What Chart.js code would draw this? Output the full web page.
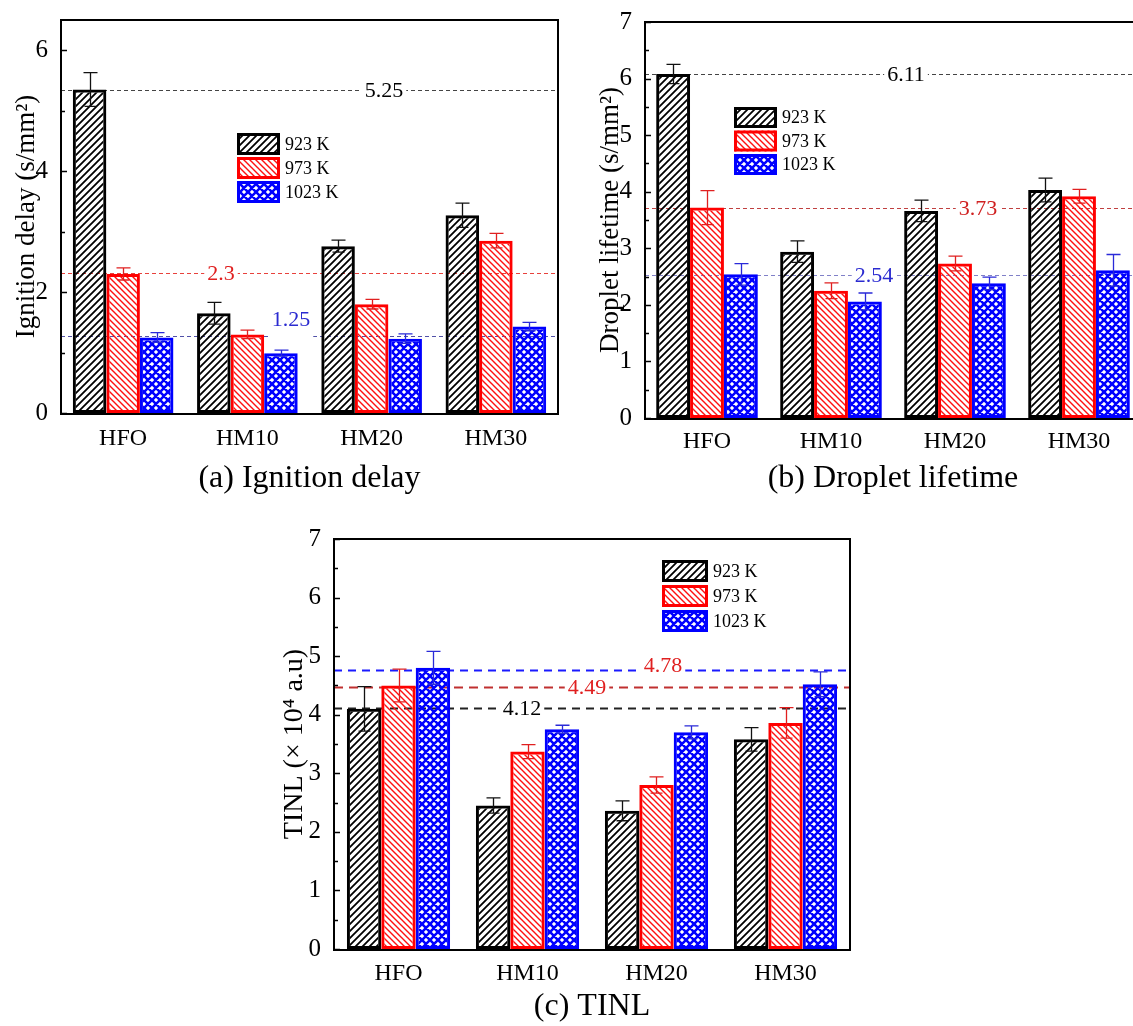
<!DOCTYPE html>
<html><head><meta charset="utf-8">
<script src="https://cdn.jsdelivr.net/npm/chart.js@4.4.0/dist/chart.umd.min.js"></script>
<style>
html,body{margin:0;padding:0;background:#fff;overflow:hidden;width:1133px;height:1026px;position:relative;}
canvas{position:absolute;}
</style></head><body>
<canvas id="ca" width="560" height="500" style="left:0px;top:0px;width:560px;height:500px"></canvas>
<canvas id="cb" width="560" height="500" style="left:584px;top:0px;width:560px;height:500px"></canvas>
<canvas id="cc" width="600" height="526" style="left:270px;top:500px;width:600px;height:526px"></canvas>
<script>
// ---------- data ----------
const categories = ['HFO', 'HM10', 'HM20', 'HM30'];
const seriesNames = ['923 K', '973 K', '1023 K'];

// (a) Ignition delay
const delay923  = [5.35, 1.65, 2.76, 3.27];
const delay973  = [2.30, 1.30, 1.80, 2.85];
const delay1023 = [1.25, 0.99, 1.23, 1.43];
const delayErr923  = [0.28, 0.18, 0.10, 0.20];
const delayErr973  = [0.10, 0.07, 0.08, 0.12];
const delayErr1023 = [0.08, 0.05, 0.08, 0.07];
const delayRefValues = [5.35, 2.31, 1.28];
const delayRefLabels = ['5.25', '2.3', '1.25'];
const delayTicks = [0, 2, 4, 6];

// (b) Droplet lifetime
const life923  = [6.08, 2.94, 3.66, 4.03];
const life973  = [3.72, 2.25, 2.73, 3.92];
const life1023 = [2.54, 2.06, 2.38, 2.61];
const lifeErr923  = [0.17, 0.19, 0.19, 0.21];
const lifeErr973  = [0.30, 0.14, 0.13, 0.12];
const lifeErr1023 = [0.19, 0.15, 0.11, 0.28];
const lifeRefValues = [6.08, 3.72, 2.53];
const lifeRefLabels = ['6.11', '3.73', '2.54'];
const lifeTicks = [0, 1, 2, 3, 4, 5, 6, 7];

// (c) TINL
const tinl923  = [4.10, 2.45, 2.36, 3.58];
const tinl973  = [4.50, 3.37, 2.80, 3.86];
const tinl1023 = [4.80, 3.75, 3.70, 4.52];
const tinlErr923  = [0.38, 0.13, 0.17, 0.20];
const tinlErr973  = [0.28, 0.12, 0.14, 0.26];
const tinlErr1023 = [0.28, 0.07, 0.11, 0.21];
const tinlRefValues = [4.76, 4.48, 4.12];
const tinlRefLabels = ['4.78', '4.49', '4.12'];
const tinlTicks = [0, 1, 2, 3, 4, 5, 6, 7];

// ---------- styles ----------
const FONT = "'Liberation Serif','Times New Roman','DejaVu Serif',serif";
Chart.defaults.font.family = FONT;
Chart.defaults.color = '#000';

function makePattern(kind) {
  const c = document.createElement('canvas');
  const s = kind === 'cross' ? 8 : (kind === 'fwd' ? 7 : 6);
  c.width = s; c.height = s;
  const x = c.getContext('2d');
  x.lineCap = 'square';
  x.beginPath();
  if (kind === 'fwd' || kind === 'cross') {
    for (const o of [-s, 0, s]) { x.moveTo(o - 1, s + 1); x.lineTo(o + s + 1, -1); }
  }
  if (kind === 'bwd' || kind === 'cross') {
    for (const o of [-s, 0, s]) { x.moveTo(o - 1, -1); x.lineTo(o + s + 1, s + 1); }
  }
  if (kind === 'fwd') { x.strokeStyle = '#000'; x.lineWidth = 1.8; }
  if (kind === 'bwd') { x.strokeStyle = '#ff1010'; x.lineWidth = 1.4; }
  if (kind === 'cross') { x.strokeStyle = '#0000ff'; x.lineWidth = 2.6; }
  x.stroke();
  return x.createPattern(c, 'repeat');
}
const fills = [makePattern('fwd'), makePattern('bwd'), makePattern('cross')];
const borderCols = ['#000000', '#ff0000', '#0000ff'];
const errCols = ['#111111', '#e02020', '#2a2ad8'];

function refLinePlugin(values, labels, styles) {
  return {
    id: 'reflines',
    beforeDatasetsDraw(chart) {
      const { ctx, chartArea: a, scales: { y } } = chart;
      values.forEach((v, k) => {
        const st = styles[k];
        const py = Math.round(y.getPixelForValue(v)) + 0.5;
        ctx.save();
        ctx.strokeStyle = st.color; ctx.lineWidth = st.width; ctx.setLineDash(st.dash);
        ctx.beginPath(); ctx.moveTo(a.left, py); ctx.lineTo(a.right, py); ctx.stroke();
        ctx.setLineDash([]);
        ctx.font = '22px ' + FONT;
        const tw = ctx.measureText(labels[k]).width;
        const cx = a.left + st.dx, cy = py + st.dy;
        ctx.fillStyle = '#fff';
        ctx.fillRect(cx - tw / 2 - 3, py - 4, tw + 6, 8);
        ctx.fillStyle = st.text; ctx.textAlign = 'center'; ctx.textBaseline = 'middle';
        ctx.fillText(labels[k], cx, cy + 1);
        ctx.restore();
      });
    }
  };
}

function errorBarPlugin(errs) {
  return {
    id: 'errbars',
    afterDatasetsDraw(chart) {
      const { ctx, scales: { y } } = chart;
      chart.data.datasets.forEach((ds, i) => {
        chart.getDatasetMeta(i).data.forEach((bar, j) => {
          const v = ds.data[j], e = errs[i][j];
          const yt = y.getPixelForValue(v + e), yb = y.getPixelForValue(v - e);
          const x = Math.round(bar.x) + 0.5;
          ctx.save();
          ctx.strokeStyle = errCols[i]; ctx.lineWidth = 1.3;
          ctx.beginPath();
          ctx.moveTo(x, yt); ctx.lineTo(x, yb);
          ctx.moveTo(x - 7, yt); ctx.lineTo(x + 7, yt);
          ctx.moveTo(x - 6, yb); ctx.lineTo(x + 6, yb);
          ctx.stroke();
          ctx.restore();
        });
      });
    }
  };
}

function framePlugin(minorStep) {
  return {
    id: 'frame',
    afterDatasetsDraw(chart) {
      const { ctx, chartArea: a, scales: { y } } = chart;
      ctx.save();
      ctx.strokeStyle = '#000'; ctx.lineWidth = 2;
      ctx.strokeRect(a.left, a.top, a.right - a.left, a.bottom - a.top + 1);
      ctx.lineWidth = 1.5;
      ctx.beginPath();
      for (let v = 0; v <= y.max + 1e-9; v += minorStep) {
        const py = Math.round(y.getPixelForValue(v)) + 0.5;
        const major = y.ticks.some(t => Math.abs(t.value - v) < 1e-9);
        ctx.moveTo(a.left, py); ctx.lineTo(a.left + (major ? 6 : 4), py);
      }
      ctx.stroke();
      ctx.restore();
    }
  };
}

function legendPlugin(pos) {
  return {
    id: 'customLegend',
    afterDraw(chart) {
      const { ctx, chartArea: a } = chart;
      ctx.save();
      seriesNames.forEach((name, i) => {
        const x = a.left + pos.dx, y = a.top + pos.dy + i * pos.step;
        ctx.fillStyle = '#fff'; ctx.fillRect(x, y, pos.w, pos.h);
        ctx.fillStyle = fills[i]; ctx.fillRect(x, y, pos.w, pos.h);
        ctx.strokeStyle = borderCols[i]; ctx.lineWidth = 3;
        ctx.strokeRect(x + 1.5, y + 1.5, pos.w - 3, pos.h - 3);
        ctx.fillStyle = '#000'; ctx.font = '18px ' + FONT;
        ctx.textAlign = 'left'; ctx.textBaseline = 'middle';
        ctx.fillText(name, x + pos.w + 5, y + pos.h / 2 + 1);
      });
      ctx.restore();
    }
  };
}

function panel(id, cfg) {
  new Chart(document.getElementById(id), {
    type: 'bar',
    data: {
      labels: categories,
      datasets: cfg.values.map((vals, i) => ({
        label: seriesNames[i], data: vals,
        backgroundColor: fills[i], borderColor: borderCols[i],
        borderWidth: 3, borderSkipped: false,
        barPercentage: 1, categoryPercentage: cfg.catPct
      }))
    },
    options: {
      responsive: false, animation: false, devicePixelRatio: 1, events: [],
      layout: { padding: cfg.pad },
      plugins: { legend: { display: false }, tooltip: { enabled: false }, title: { display: false } },
      scales: {
        x: {
          grid: { display: false }, border: { display: false },
          ticks: { color: '#000', font: { size: 24, lineHeight: 1 }, padding: cfg.xTickPad, maxRotation: 0, autoSkip: false },
          title: { display: true, text: cfg.caption, color: '#000', font: { size: 32, lineHeight: 1 }, padding: { top: 0, bottom: cfg.capPad } },
          afterFit(s) { s.height = cfg.xH; }
        },
        y: {
          min: 0, max: cfg.ymax,
          grid: { display: false }, border: { display: false },
          afterBuildTicks(s) { s.ticks = cfg.yTicks.map(v => ({ value: v })); },
          ticks: { color: '#000', font: { size: 25 }, padding: 5 },
          title: { display: true, text: cfg.yTitle, color: '#000', font: { size: cfg.yTitleSize, lineHeight: 1 }, padding: { top: cfg.yTitlePad, bottom: 0 } },
          afterFit(s) { s.width = cfg.yW; }
        }
      }
    },
    plugins: [
      refLinePlugin(cfg.refValues, cfg.refLabels, cfg.refStyles),
      errorBarPlugin(cfg.errs),
      framePlugin(cfg.minorStep),
      legendPlugin(cfg.legend)
    ]
  });
}

panel('ca', {
  values: [delay923, delay973, delay1023],
  errs: [delayErr923, delayErr973, delayErr1023],
  refValues: delayRefValues, refLabels: delayRefLabels,
  refStyles: [
    { color: '#444', width: 1, dash: [4, 3], text: '#000', dx: 323, dy: 0 },
    { color: '#e8413c', width: 1, dash: [4, 3], text: '#e02020', dx: 160, dy: 0 },
    { color: '#5050a8', width: 1, dash: [4, 3], text: '#2a2ad0', dx: 230, dy: -17 }
  ],
  yTicks: delayTicks, ymax: 6.5, minorStep: 1,
  catPct: 0.81,
  pad: { left: 0, top: 17, right: 2, bottom: 0 },
  yW: 61, xH: 87, xTickPad: 6, capPad: 5,
  caption: '(a) Ignition delay',
  yTitle: 'Ignition delay (s/mm\u00B2)', yTitleSize: 27, yTitlePad: 13.5,
  legend: { dx: 176, dy: 113, w: 43, h: 22, step: 24 }
});

panel('cb', {
  values: [life923, life973, life1023],
  errs: [lifeErr923, lifeErr973, lifeErr1023],
  refValues: lifeRefValues, refLabels: lifeRefLabels,
  refStyles: [
    { color: '#444', width: 1, dash: [4, 3], text: '#000', dx: 261, dy: 0 },
    { color: '#c04040', width: 1, dash: [4, 3], text: '#d02020', dx: 333, dy: 0 },
    { color: '#8080c8', width: 1, dash: [4, 3], text: '#2a2ad0', dx: 229, dy: 0 }
  ],
  yTicks: lifeTicks, ymax: 7, minorStep: 0.5,
  catPct: 0.82,
  pad: { left: 0, top: 22, right: 3, bottom: 0 },
  yW: 61, xH: 82, xTickPad: 4, capPad: 5,
  caption: '(b) Droplet lifetime',
  yTitle: 'Droplet lifetime (s/mm\u00B2)', yTitleSize: 27, yTitlePad: 13.5,
  legend: { dx: 89, dy: 85, w: 43, h: 21, step: 23.5 }
});

panel('cc', {
  values: [tinl923, tinl973, tinl1023],
  errs: [tinlErr923, tinlErr973, tinlErr1023],
  refValues: tinlRefValues, refLabels: tinlRefLabels,
  refStyles: [
    { color: '#1a1aff', width: 1.8, dash: [8, 6], text: '#e02020', dx: 329, dy: -5 },
    { color: '#c03030', width: 2.2, dash: [9, 6], text: '#e02020', dx: 253, dy: 0 },
    { color: '#222', width: 1.8, dash: [8, 6], text: '#000', dx: 188, dy: 0 }
  ],
  yTicks: tinlTicks, ymax: 7, minorStep: 0.5,
  catPct: 0.80,
  pad: { left: 0, top: 39, right: 20, bottom: 0 },
  yW: 64, xH: 77, xTickPad: 5, capPad: 3,
  caption: '(c) TINL',
  yTitle: 'TINL (\u00D7 10\u2074 a.u)', yTitleSize: 28, yTitlePad: 11,
  legend: { dx: 328, dy: 21, w: 46, h: 22, step: 25 }
});
</script>
</body></html>
